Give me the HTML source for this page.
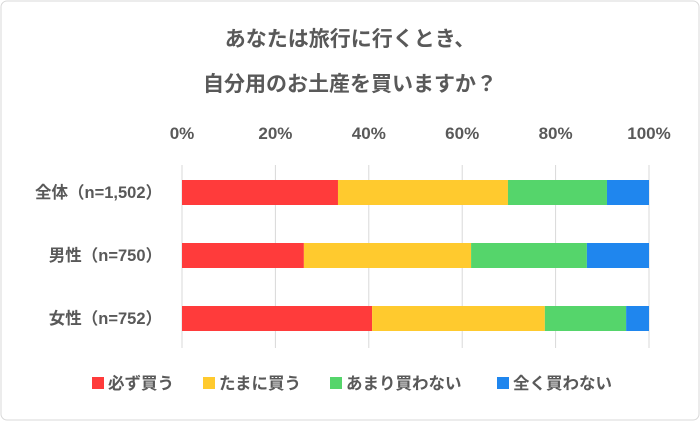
<!DOCTYPE html>
<html><head><meta charset="utf-8"><style>
body{margin:0;background:#fff}
svg text{font-family:"Liberation Sans","Noto Sans CJK JP",sans-serif;font-weight:bold;fill:#595959}
</style></head><body>
<svg width="700" height="421" xmlns="http://www.w3.org/2000/svg">
<rect x="1" y="1" width="698" height="419" rx="6" fill="#fff" stroke="#d9d9d9"/>
<text x="350" y="46" text-anchor="middle" font-size="21">あなたは旅行に行くとき、</text>
<text x="350" y="91" text-anchor="middle" font-size="21">自分用のお土産を買いますか？</text>
<g id="grid"></g><g id="bars"></g><g id="legend"></g>
</svg>
<script>
const categories=["全体（n=1,502）","男性（n=750）","女性（n=752）"];
const seriesNames=["必ず買う","たまに買う","あまり買わない","全く買わない"];
const always=[33.4,26.1,40.7];
const sometimes=[36.4,35.8,37.0];
const rarely=[21.2,24.8,17.4];
const never=[9.0,13.3,4.9];
const ticks=[0,20,40,60,80,100];
const colors=["#ff3b3b","#ffca2e","#55d56b","#1f86ee"];
const ns="http://www.w3.org/2000/svg";
const x0=182,x1=649,rowTop=180,rowStep=63,barH=25;
const xs=v=>x0+(x1-x0)*v/100;
function mk(t,a,p){const e=document.createElementNS(ns,t);for(const k in a)e.setAttribute(k,a[k]);p.appendChild(e);return e;}
const grid=document.getElementById('grid');
ticks.forEach(t=>{
 const l=mk('line',{x1:xs(t),x2:xs(t),y1:165,y2:348,stroke:'#d9d9d9'},grid);
 
 
 const tx=mk('text',{x:xs(t),y:139,'text-anchor':'middle','font-size':17},grid);tx.textContent=t+'%';
 
 
});
const series=[always,sometimes,rarely,never];
const bars=document.getElementById('bars');
categories.forEach((c,i)=>{
 const y=rowTop+i*rowStep;
 const lb=mk('text',{x:162,y:y+18,'text-anchor':'end','font-size':16.5},bars);lb.textContent=c;
 
 
 let acc=0;
 series.forEach((s,j)=>{
  const r=mk('rect',{x:xs(acc),y:y,width:xs(acc+s[i])-xs(acc),height:barH,fill:colors[j]},bars);
  
  
  acc+=s[i];
 });
});
const lg=document.getElementById('legend');
const lx=[92,203,330,497];
seriesNames.forEach((n,j)=>{
 const g=mk('g',{},lg);
 
 
 mk('rect',{x:lx[j],y:377,width:12,height:12,fill:colors[j]},g);
 const t=mk('text',{x:lx[j]+16,y:389,'font-size':16.5},g);t.textContent=n;
});
</script>
</body></html>
